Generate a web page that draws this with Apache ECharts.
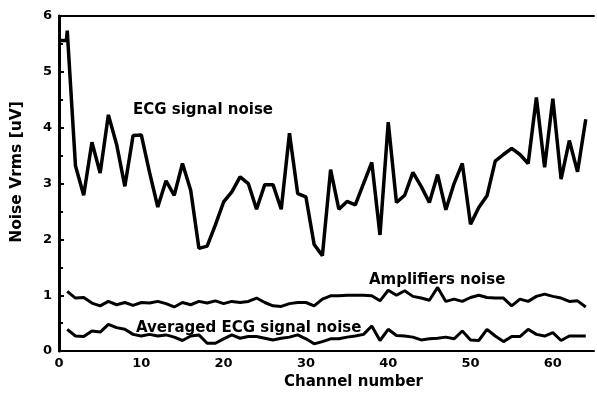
<!DOCTYPE html>
<html>
<head>
<meta charset="utf-8">
<script src="https://cdn.jsdelivr.net/npm/echarts@6/dist/echarts.min.js"></script>
<style>
  html, body { margin: 0; padding: 0; background: #fff; }
  #chart { width: 597px; height: 395px; }
</style>
</head>
<body>
<div id="chart"></div>
<script>
const channels = [1, 2, 3, 4, 5, 6, 7, 8, 9, 10, 11, 12, 13, 14, 15, 16, 17, 18, 19, 20,
  21, 22, 23, 24, 25, 26, 27, 28, 29, 30, 31, 32, 33, 34, 35, 36, 37, 38, 39, 40,
  41, 42, 43, 44, 45, 46, 47, 48, 49, 50, 51, 52, 53, 54, 55, 56, 57, 58, 59, 60,
  61, 62, 63, 64];

// ECG trace starts with a short flat piece before channel 1
const ecgStart = [[0, 5.56], [0.9, 5.56]];
const ecgNoise = [5.74, 3.32, 2.79, 3.74, 3.19, 4.23, 3.70, 2.95, 3.86, 3.87,
  3.2, 2.58, 3.05, 2.79, 3.36, 2.88, 1.84, 1.88, 2.26, 2.67,
  2.85, 3.12, 3.0, 2.54, 2.98, 2.98, 2.54, 3.9, 2.82, 2.76,
  1.91, 1.71, 3.25, 2.54, 2.68, 2.62, 3.0, 3.38, 2.08, 4.1,
  2.66, 2.79, 3.2, 2.95, 2.66, 3.16, 2.53, 3.0, 3.36, 2.27,
  2.57, 2.78, 3.4, 3.52, 3.63, 3.52, 3.36, 4.54, 3.29, 4.52,
  3.08, 3.77, 3.21, 4.15];

const ampNoise = [1.07, 0.95, 0.96, 0.86, 0.81, 0.89, 0.83, 0.87, 0.82, 0.87,
  0.86, 0.89, 0.85, 0.79, 0.87, 0.83, 0.89, 0.86, 0.9, 0.85,
  0.89, 0.87, 0.89, 0.95, 0.87, 0.81, 0.8, 0.85, 0.87, 0.87,
  0.81, 0.93, 0.99, 0.99, 1.0, 1.0, 1.0, 0.99, 0.9, 1.09,
  1.0, 1.08, 0.98, 0.95, 0.91, 1.14, 0.89, 0.93, 0.89, 0.96,
  1.0, 0.96, 0.95, 0.95, 0.81, 0.93, 0.89, 0.98, 1.02, 0.98,
  0.95, 0.89, 0.9, 0.79];

const avgEcgNoise = [0.39, 0.27, 0.26, 0.36, 0.34, 0.48, 0.42, 0.39, 0.3, 0.27,
  0.3, 0.27, 0.29, 0.25, 0.19, 0.27, 0.29, 0.14, 0.14, 0.22,
  0.29, 0.23, 0.26, 0.26, 0.23, 0.2, 0.23, 0.25, 0.29, 0.22,
  0.13, 0.17, 0.22, 0.22, 0.25, 0.27, 0.3, 0.45, 0.19, 0.39,
  0.28, 0.27, 0.25, 0.2, 0.22, 0.23, 0.25, 0.22, 0.36, 0.2,
  0.19, 0.39, 0.27, 0.17, 0.26, 0.26, 0.39, 0.3, 0.27, 0.33,
  0.19, 0.27, 0.27, 0.27];

const xTicks = [0, 10, 20, 30, 40, 50, 60];

const font = "'DejaVu Sans', sans-serif";
const pairs = (xs, ys) => xs.map((x, i) => [x, ys[i]]);

const chart = echarts.init(document.getElementById("chart"));

chart.setOption({
  animation: false,
  grid: { left: 59, right: 0, top: 16, bottom: 36 },
  xAxis: [
    {
      type: "value",
      min: 0,
      max: 65,
      interval: 10,
      axisLine: { lineStyle: { color: "#000", width: 2 } },
      axisTick: { show: false },
      splitLine: { show: false },
      axisLabel: {
        color: "#000",
        fontFamily: font,
        fontWeight: "bold",
        fontSize: 13,
        margin: 6,
        formatter: (v) => (xTicks.includes(v) ? String(v) : ""),
      },
      name: "Channel number",
      nameLocation: "middle",
      nameGap: 22,
      nameTextStyle: {
        color: "#000",
        fontFamily: font,
        fontWeight: "bold",
        fontSize: 15,
        padding: [0, 0, 0, 54],
      },
    },
    {
      type: "value",
      position: "top",
      min: 0,
      max: 65,
      axisLine: { onZero: false, lineStyle: { color: "#000", width: 2 } },
      axisTick: { show: false },
      axisLabel: { show: false },
      splitLine: { show: false },
    },
  ],
  yAxis: {
    type: "value",
    min: 0,
    max: 6,
    interval: 1,
    axisLine: { show: true, lineStyle: { color: "#000", width: 3 } },
    axisTick: { inside: true, length: 5, lineStyle: { color: "#000", width: 2 } },
    minorTick: { show: true, splitNumber: 2, length: 4, lineStyle: { color: "#000", width: 2 } },
    splitLine: { show: false },
    axisLabel: {
      color: "#000",
      fontFamily: font,
      fontWeight: "bold",
      fontSize: 13,
      margin: 7,
    },
  },
  graphic: [
    {
      type: "text",
      x: 17,
      y: 172,
      rotation: Math.PI / 2,
      style: {
        text: "Noise Vrms [uV]",
        font: "bold 15.5px " + font,
        fill: "#000",
        textAlign: "center",
        textVerticalAlign: "middle",
      },
    },
    {
      type: "text",
      x: 133,
      y: 110,
      style: { text: "ECG signal noise", font: "bold 15px " + font, fill: "#000", textVerticalAlign: "middle" },
    },
    {
      type: "text",
      x: 369,
      y: 280,
      style: { text: "Amplifiers noise", font: "bold 15px " + font, fill: "#000", textVerticalAlign: "middle" },
    },
    {
      type: "text",
      x: 136,
      y: 328,
      style: { text: "Averaged ECG signal noise", font: "bold 15px " + font, fill: "#000", textVerticalAlign: "middle" },
    },
  ],
  series: [
    {
      name: "ECG signal noise",
      type: "line",
      symbol: "none",
      data: ecgStart.concat(pairs(channels, ecgNoise)),
      lineStyle: { color: "#000", width: 3.5 },
    },
    {
      name: "Amplifiers noise",
      type: "line",
      symbol: "none",
      data: pairs(channels, ampNoise),
      lineStyle: { color: "#000", width: 3 },
    },
    {
      name: "Averaged ECG signal noise",
      type: "line",
      symbol: "none",
      data: pairs(channels, avgEcgNoise),
      lineStyle: { color: "#000", width: 3 },
    },
  ],
});
</script>
</body>
</html>
